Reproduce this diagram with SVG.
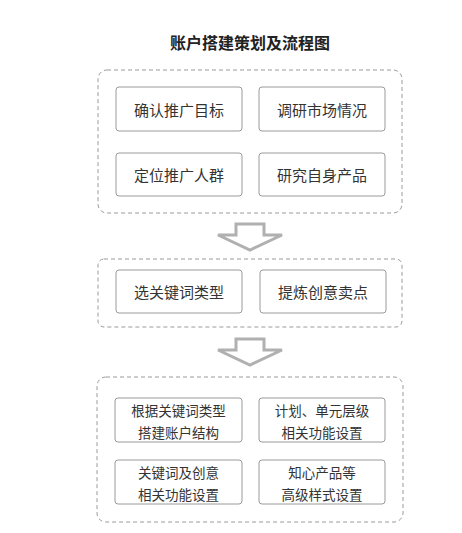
<svg xmlns="http://www.w3.org/2000/svg" width="462" height="533" viewBox="0 0 462 533">
<style>
.t{font-family:"Noto Sans CJK SC","Noto Sans",sans-serif;fill:#333;text-anchor:middle;dominant-baseline:central}
.n{font-size:15px}
.s{font-size:13.5px}
.grp{fill:none;stroke:#9a9a9a;stroke-width:1;stroke-dasharray:4 3}
.box{fill:#fff;stroke:#9a9a9a;stroke-width:1}
.arr{fill:#fff;stroke:#b0b0b0;stroke-width:3;stroke-linejoin:miter}
</style>
<rect width="462" height="533" fill="#fff"/>
<text x="250" y="42" class="t" style="font-size:16px;font-weight:bold;fill:#222">账户搭建策划及流程图</text>
<g id="group1">
<rect x="98" y="70" width="304" height="143" rx="9" class="grp"/>
</g>
<g id="node1"><rect x="116" y="87" width="126" height="44" rx="3" class="box"/><text x="179" y="109" class="t n">确认推广目标</text></g>
<g id="node2"><rect x="259" y="87" width="126" height="44" rx="3" class="box"/><text x="322" y="109" class="t n">调研市场情况</text></g>
<g id="node3"><rect x="116" y="153" width="126" height="43" rx="3" class="box"/><text x="179" y="174.5" class="t n">定位推广人群</text></g>
<g id="node4"><rect x="259" y="153" width="126" height="43" rx="3" class="box"/><text x="322" y="174.5" class="t n">研究自身产品</text></g>
<g id="group2">
<rect x="98" y="259" width="304" height="68" rx="6" class="grp"/>
</g>
<g id="node5"><rect x="116" y="270" width="126" height="43" rx="3" class="box"/><text x="179" y="291.5" class="t n">选关键词类型</text></g>
<g id="node6"><rect x="260" y="270" width="126" height="43" rx="3" class="box"/><text x="323" y="291.5" class="t n">提炼创意卖点</text></g>
<g id="group3">
<rect x="97" y="377" width="306" height="145" rx="9" class="grp"/>
</g>
<g id="node7"><rect x="115" y="398" width="127" height="44" rx="3" class="box"/><text x="178.5" y="410" class="t s">根据关键词类型</text><text x="178.5" y="432" class="t s">搭建账户结构</text></g>
<g id="node8"><rect x="259" y="398" width="126" height="44" rx="3" class="box"/><text x="322" y="410" class="t s">计划、单元层级</text><text x="322" y="432" class="t s">相关功能设置</text></g>
<g id="node9"><rect x="115" y="460" width="127" height="44" rx="3" class="box"/><text x="178.5" y="472" class="t s">关键词及创意</text><text x="178.5" y="494" class="t s">相关功能设置</text></g>
<g id="node10"><rect x="259" y="460" width="126" height="44" rx="3" class="box"/><text x="322" y="472" class="t s">知心产品等</text><text x="322" y="494" class="t s">高级样式设置</text></g>
<g id="connectors">
<path class="arr" d="M236 224 L264 224 L264 235 L282 235 L250 250 L218 235 L236 235 Z"/>
<path class="arr" d="M236 339 L264 339 L264 350 L282 350 L250 365 L218 350 L236 350 Z"/>
</g>
</svg>
